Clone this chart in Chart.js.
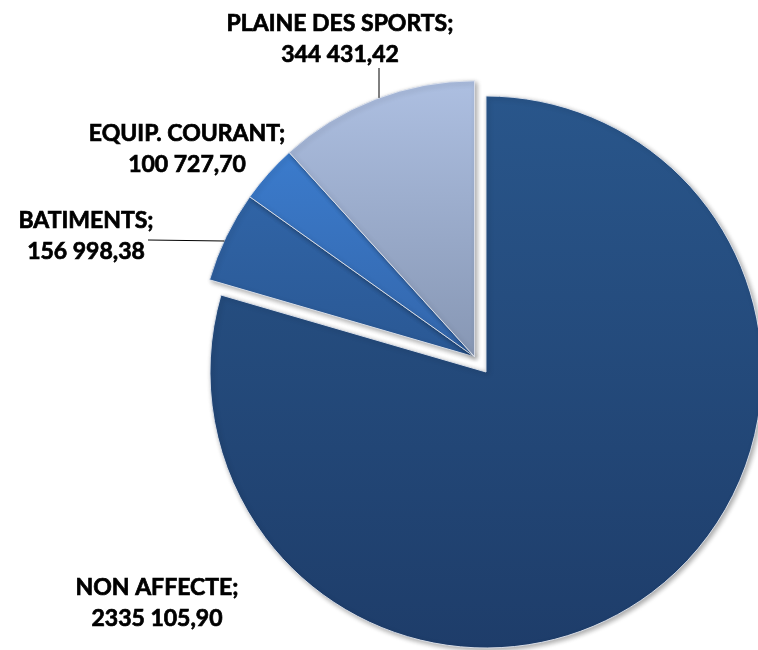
<!DOCTYPE html>
<html>
<head>
<meta charset="utf-8">
<script src="https://cdn.jsdelivr.net/npm/chart.js@4"></script>
<style>
  html, body { margin: 0; padding: 0; background: #fff; }
  #wrap { width: 758px; height: 650px; }
</style>
</head>
<body>
<div id="wrap"><canvas id="pie" width="758" height="650"></canvas></div>
<script>
// données
const categories = ['NON AFFECTE', 'BATIMENTS', 'EQUIP. COURANT', 'PLAINE DES SPORTS'];
const montants = [2335105.90, 156998.38, 100727.70, 344431.42];

// couleurs (haut / bas du dégradé)
const topColors = ['#29568b', '#3064a6', '#3b7bcc', '#adbfe1'];
const bottomColors = ['#1e3d6a', '#2a5894', '#3366ab', '#8797b4'];
// parts éclatées (ensemble) et distance en px
const exploded = [false, true, true, true];
const explodeDist = 19;

// position des étiquettes : centre x, ligne de base de la 1re ligne
const labelPos = [
    {x: 157, y: 595},
    {x: 86, y: 228},
    {x: 187, y: 141},
    {x: 340, y: 31}
];
// lignes de repère : 'h' horizontale depuis (x,y), 'v' verticale depuis (x,y)
const leaders = [null, {dir: 'h', x: 148, y: 240}, null, {dir: 'v', x: 379, y: 68}];

function formatMontant(v) {
    const parts = v.toFixed(2).split('.');
    const ent = parts[0];
    const txt = ent.length > 3 ? ent.slice(0, -3) + ' ' + ent.slice(-3) : ent;
    return txt + ',' + parts[1];
}

// décale le groupe de parts éclatées le long de sa bissectrice commune
const explodePlugin = {
    id: 'explode',
    afterDatasetsUpdate(chart) {
        const arcs = chart.getDatasetMeta(0).data;
        const grp = arcs.filter((a, i) => exploded[i]);
        if (!grp.length) return;
        const start = Math.min(...grp.map(a => a.startAngle));
        const end = Math.max(...grp.map(a => a.endAngle));
        const mid = (start + end) / 2;
        grp.forEach(arc => {
            arc.x += Math.cos(mid) * explodeDist;
            arc.y += Math.sin(mid) * explodeDist;
        });
    }
};

const gradientPlugin = {
    id: 'gradient',
    beforeDatasetsDraw(chart) {
        const ctx = chart.ctx;
        const arcs = chart.getDatasetMeta(0).data;
        arcs.forEach((arc, i) => {
            let minY = arc.y, maxY = arc.y;
            for (let k = 0; k <= 40; k++) {
                const a = arc.startAngle + (arc.endAngle - arc.startAngle) * k / 40;
                const py = arc.y + Math.sin(a) * arc.outerRadius;
                minY = Math.min(minY, py);
                maxY = Math.max(maxY, py);
            }
            const g = ctx.createLinearGradient(0, minY, 0, maxY);
            g.addColorStop(0, topColors[i]);
            g.addColorStop(1, bottomColors[i]);
            arc.options.backgroundColor = g;
        });
        ctx.save();
        ctx.shadowColor = 'rgba(0,0,0,0.35)';
        ctx.shadowBlur = 5;
        ctx.shadowOffsetX = 2;
        ctx.shadowOffsetY = 2;
    },
    afterDatasetsDraw(chart) {
        chart.ctx.restore();
    }
};

const labelPlugin = {
    id: 'etiquettes',
    afterDraw(chart) {
        const ctx = chart.ctx;
        const arcs = chart.getDatasetMeta(0).data;
        ctx.save();
        ctx.fillStyle = '#000';
        ctx.strokeStyle = '#000';
        ctx.font = 'bold 23px Lato, "Open Sans", sans-serif';
        ctx.textAlign = 'center';
        ctx.textBaseline = 'alphabetic';
        categories.forEach((cat, i) => {
            const p = labelPos[i];
            const l1 = cat + ';';
            const l2 = formatMontant(montants[i]);
            ctx.lineWidth = 0.7;
            ctx.fillText(l1, p.x, p.y);
            ctx.strokeText(l1, p.x, p.y);
            ctx.fillText(l2, p.x, p.y + 31);
            ctx.strokeText(l2, p.x, p.y + 31);
            const l = leaders[i];
            if (l) {
                const arc = arcs[i];
                const r = arc.outerRadius;
                ctx.lineWidth = 1;
                ctx.beginPath();
                ctx.moveTo(l.x, l.y);
                if (l.dir === 'v') {
                    const dx = l.x - arc.x;
                    ctx.lineTo(l.x, arc.y - Math.sqrt(r * r - dx * dx));
                } else {
                    const dy = l.y - arc.y;
                    ctx.lineTo(arc.x - Math.sqrt(r * r - dy * dy), l.y + 1);
                }
                ctx.stroke();
            }
        });
        ctx.restore();
    }
};

new Chart(document.getElementById('pie').getContext('2d'), {
    type: 'pie',
    data: {
        labels: categories,
        datasets: [{
            data: montants,
            backgroundColor: topColors,
            borderColor: 'rgba(225,230,238,0.9)',
            borderWidth: 1,
            radius: 276
        }]
    },
    options: {
        responsive: false,
        animation: false,
        layout: { padding: { left: 214, right: 0, top: 94, bottom: 0 } },
        plugins: {
            legend: { display: false },
            tooltip: { enabled: false }
        }
    },
    plugins: [explodePlugin, gradientPlugin, labelPlugin]
});
</script>
</body>
</html>
